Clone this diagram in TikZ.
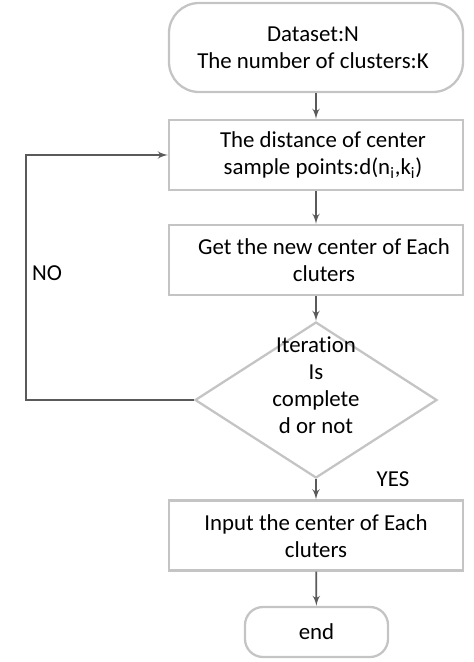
\documentclass[tikz,border=0pt]{standalone}
\usepackage{fontspec}
\setmainfont{Carlito}[Ligatures=NoCommon]
\usetikzlibrary{arrows,shapes.geometric}
\definecolor{boxgray}{HTML}{C4C4C4}
\definecolor{linegray}{HTML}{5A5A5A}
\begin{document}
\begin{tikzpicture}
        \tikzset{box/.style = {rectangle,draw=boxgray,line width=1.3pt,minimum width=5.88cm,minimum height=1.4cm}}
        \tikzset{term/.style = {box,rounded corners=0.6cm,minimum height=1.78cm}}
        \tikzset{decision/.style = {diamond,draw=boxgray,line width=1.3pt,minimum width=4.84cm,minimum height=3.12cm,inner sep=0pt}}
        \tikzset{txt/.style = {align=center,font=\fontsize{13}{15.3}\selectfont,inner sep=0pt}}
        \tikzset{edge/.style = {->,> = latex',line width=1pt,draw=linegray}}
        \useasboundingbox (0,0) rectangle (9.48,-13.24);
        % vertices
        \node[term] (start) at (6.32,-0.95) {};
        \node[txt] at (6.26,-0.95) {Dataset:N\\The number of clusters:K};
        \node[box] (dist) at (6.32,-3.1) {};
        \node[txt] at (6.46,-3.1) {The distance of center\\sample points:d(n\textsubscript{i},k\textsubscript{i})};
        \node[box] (newc) at (6.32,-5.2) {};
        \node[txt] at (6.48,-5.2) {Get the new center of Each\\cluters};
        \node[decision] (iter) at (6.32,-8.0) {};
        \node[txt] at (6.32,-7.7) {Iteration\\Is\\complete\\d or not};
        \node[box] (input) at (6.32,-10.71) {};
        \node[txt] at (6.32,-10.73) {Input the center of Each\\cluters};
        \node[term,txt,inner sep=0.333em,rounded corners=0.36cm,minimum width=2.86cm,minimum height=1.0cm] (end) at (6.33,-12.64) {end};
        \coordinate (loop) at (0.52,0);
        \node[txt] (no) at (0.94,-5.46) {NO};
        \node[txt] (yes) at (7.86,-9.58) {YES};
        %edges
        \draw[edge] (start) -- (dist);
        \draw[edge] (dist) -- (newc);
        \draw[edge] (newc) -- (iter);
        \draw[edge] (iter) -- (input);
        \draw[edge] (input) -- (end);
        \draw[edge] (iter.west) -- (iter.west -| loop) |- (dist.west);
\end{tikzpicture}
\end{document}
